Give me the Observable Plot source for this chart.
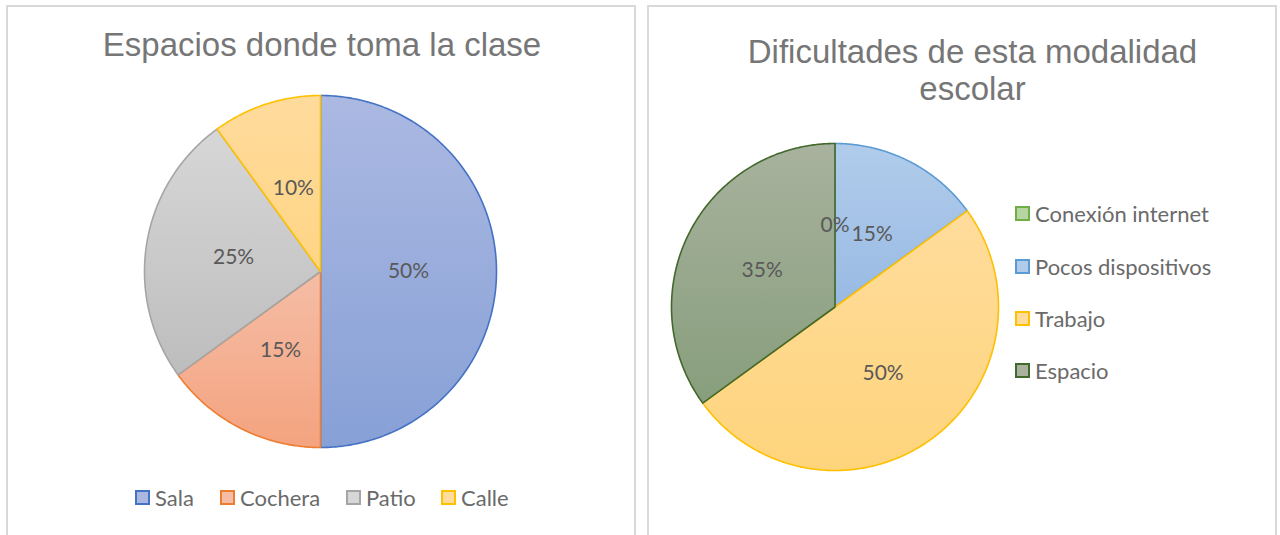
<!DOCTYPE html>
<html>
<head>
<meta charset="utf-8">
<script src="https://cdn.jsdelivr.net/npm/d3@7"></script>
<script src="https://cdn.jsdelivr.net/npm/@observablehq/plot@0.6"></script>
<style>
  html, body { margin: 0; padding: 0; background: #fff; width: 1280px; height: 535px; overflow: hidden; }
  .panel { position: absolute; top: 5px; height: 560px; border: 2px solid #d9d9d9; box-sizing: border-box; background: #fff; }
  .title { position: absolute; font-family: "Liberation Sans", Arial, sans-serif; font-size: 33px; color: #767676; text-align: center; line-height: 37px; white-space: nowrap; }
  .pie { position: absolute; }
  .leg { position: absolute; font-family: Lato, "Open Sans", sans-serif; font-size: 22px; color: #6a6a6a; white-space: nowrap; display: flex; align-items: center; }
  .sw { display: inline-block; width: 11px; height: 11px; border: 2px solid; margin-right: 5px; }
</style>
</head>
<body>
<div class="panel" style="left:6px; width:630px;"></div>
<div class="panel" style="left:647px; width:630px;"></div>
<div class="title" style="left:6px; width:632px; top:26px;">Espacios donde toma la clase</div>
<div class="title" style="left:700px; width:545px; top:33px;">Dificultades de esta modalidad<br>escolar</div>
<div id="pie1" class="pie"></div>
<div id="pie2" class="pie"></div>
<script>
// ---- Data ----
const espaciosLabels = ["Sala", "Cochera", "Patio", "Calle"];
const espaciosValues = [50, 15, 25, 10];
const espaciosStroke = ["#4472c4", "#ed7d31", "#a5a5a5", "#ffc000"];
const espaciosTop    = ["#abb9e2", "#f5bda6", "#d7d7d7", "#ffdb9c"];
const espaciosBottom = ["#87a0d6", "#f4a37f", "#bdbdbd", "#ffd585"];

const dificultadesLabels = ["Conexión internet", "Pocos dispositivos", "Trabajo", "Espacio"];
const dificultadesValues = [0, 15, 50, 35];
const dificultadesStroke = ["#70ad47", "#5b9bd5", "#ffc000", "#43682b"];
const dificultadesTop    = ["#b5d6a1", "#b1cceb", "#ffdc9c", "#a8b29e"];
const dificultadesBottom = ["#9fc889", "#98bae3", "#fed47c", "#879e7c"];

function drawPie(el, id, labels, values, strokes, tops, bottoms, cx, cy, r) {
  const pie = d3.pie().sort(null).startAngle(0).endAngle(2 * Math.PI)(values);
  const rows = [];
  const labelRows = [];
  pie.forEach((p, i) => {
    const key = labels[i];
    const fill = `url(#${id}-g${i})`;
    rows.push({key, x: 0, y: 0, fill, stroke: strokes[i]});
    const span = p.endAngle - p.startAngle;
    const n = Math.max(1, Math.ceil(span / (Math.PI / 360)));
    for (let k = 0; k <= n; ++k) {
      const a = p.startAngle + span * k / n;
      rows.push({key, x: Math.sin(a), y: Math.cos(a), fill, stroke: strokes[i]});
    }
    const m = (p.startAngle + p.endAngle) / 2;
    labelRows.push({x: 0.5 * Math.sin(m), y: 0.5 * Math.cos(m), text: `${values[i]}%`});
  });
  const size = 2 * r + 4;
  const svg = Plot.plot({
    width: size, height: size,
    margin: 2,
    x: {domain: [-1, 1], axis: null},
    y: {domain: [-1, 1], axis: null},
    color: {type: "identity"},
    style: {background: "transparent", overflow: "visible"},
    marks: [
      Plot.line(rows, {x: "x", y: "y", z: "key", fill: "fill", stroke: "stroke", strokeWidth: 1.6, curve: "linear-closed", strokeLinejoin: "round"}),
      Plot.text(labelRows, {x: "x", y: "y", text: "text", fontSize: 21, fill: "#595959", fontFamily: "Lato, 'Open Sans', sans-serif"})
    ]
  });
  const defs = d3.select(svg).insert("defs", ":first-child");
  tops.forEach((t, i) => {
    const g = defs.append("linearGradient").attr("id", `${id}-g${i}`).attr("x1", 0).attr("y1", 0).attr("x2", 0).attr("y2", 1);
    g.append("stop").attr("offset", "0%").attr("stop-color", t);
    g.append("stop").attr("offset", "100%").attr("stop-color", bottoms[i]);
  });
  el.style.left = (cx - r - 2) + "px";
  el.style.top = (cy - r - 2) + "px";
  el.appendChild(svg);
}

drawPie(document.getElementById("pie1"), "p1", espaciosLabels, espaciosValues, espaciosStroke, espaciosTop, espaciosBottom, 320, 271, 176);
drawPie(document.getElementById("pie2"), "p2", dificultadesLabels, dificultadesValues, dificultadesStroke, dificultadesTop, dificultadesBottom, 834, 306.5, 163.5);

function legendItem(label, stroke, fill, left, top) {
  const d = document.createElement("div");
  d.className = "leg";
  d.style.left = left + "px";
  d.style.top = top + "px";
  d.innerHTML = `<span class="sw" style="border-color:${stroke}; background:${fill}"></span>${label}`;
  document.body.appendChild(d);
}
const leg1X = [135, 220, 346, 441];
espaciosLabels.forEach((l, i) => legendItem(l, espaciosStroke[i], espaciosTop[i], leg1X[i], 484));
const leg2Y = [200, 253, 305, 357];
dificultadesLabels.forEach((l, i) => legendItem(l, dificultadesStroke[i], dificultadesTop[i], 1015, leg2Y[i]));
</script>
</body>
</html>
